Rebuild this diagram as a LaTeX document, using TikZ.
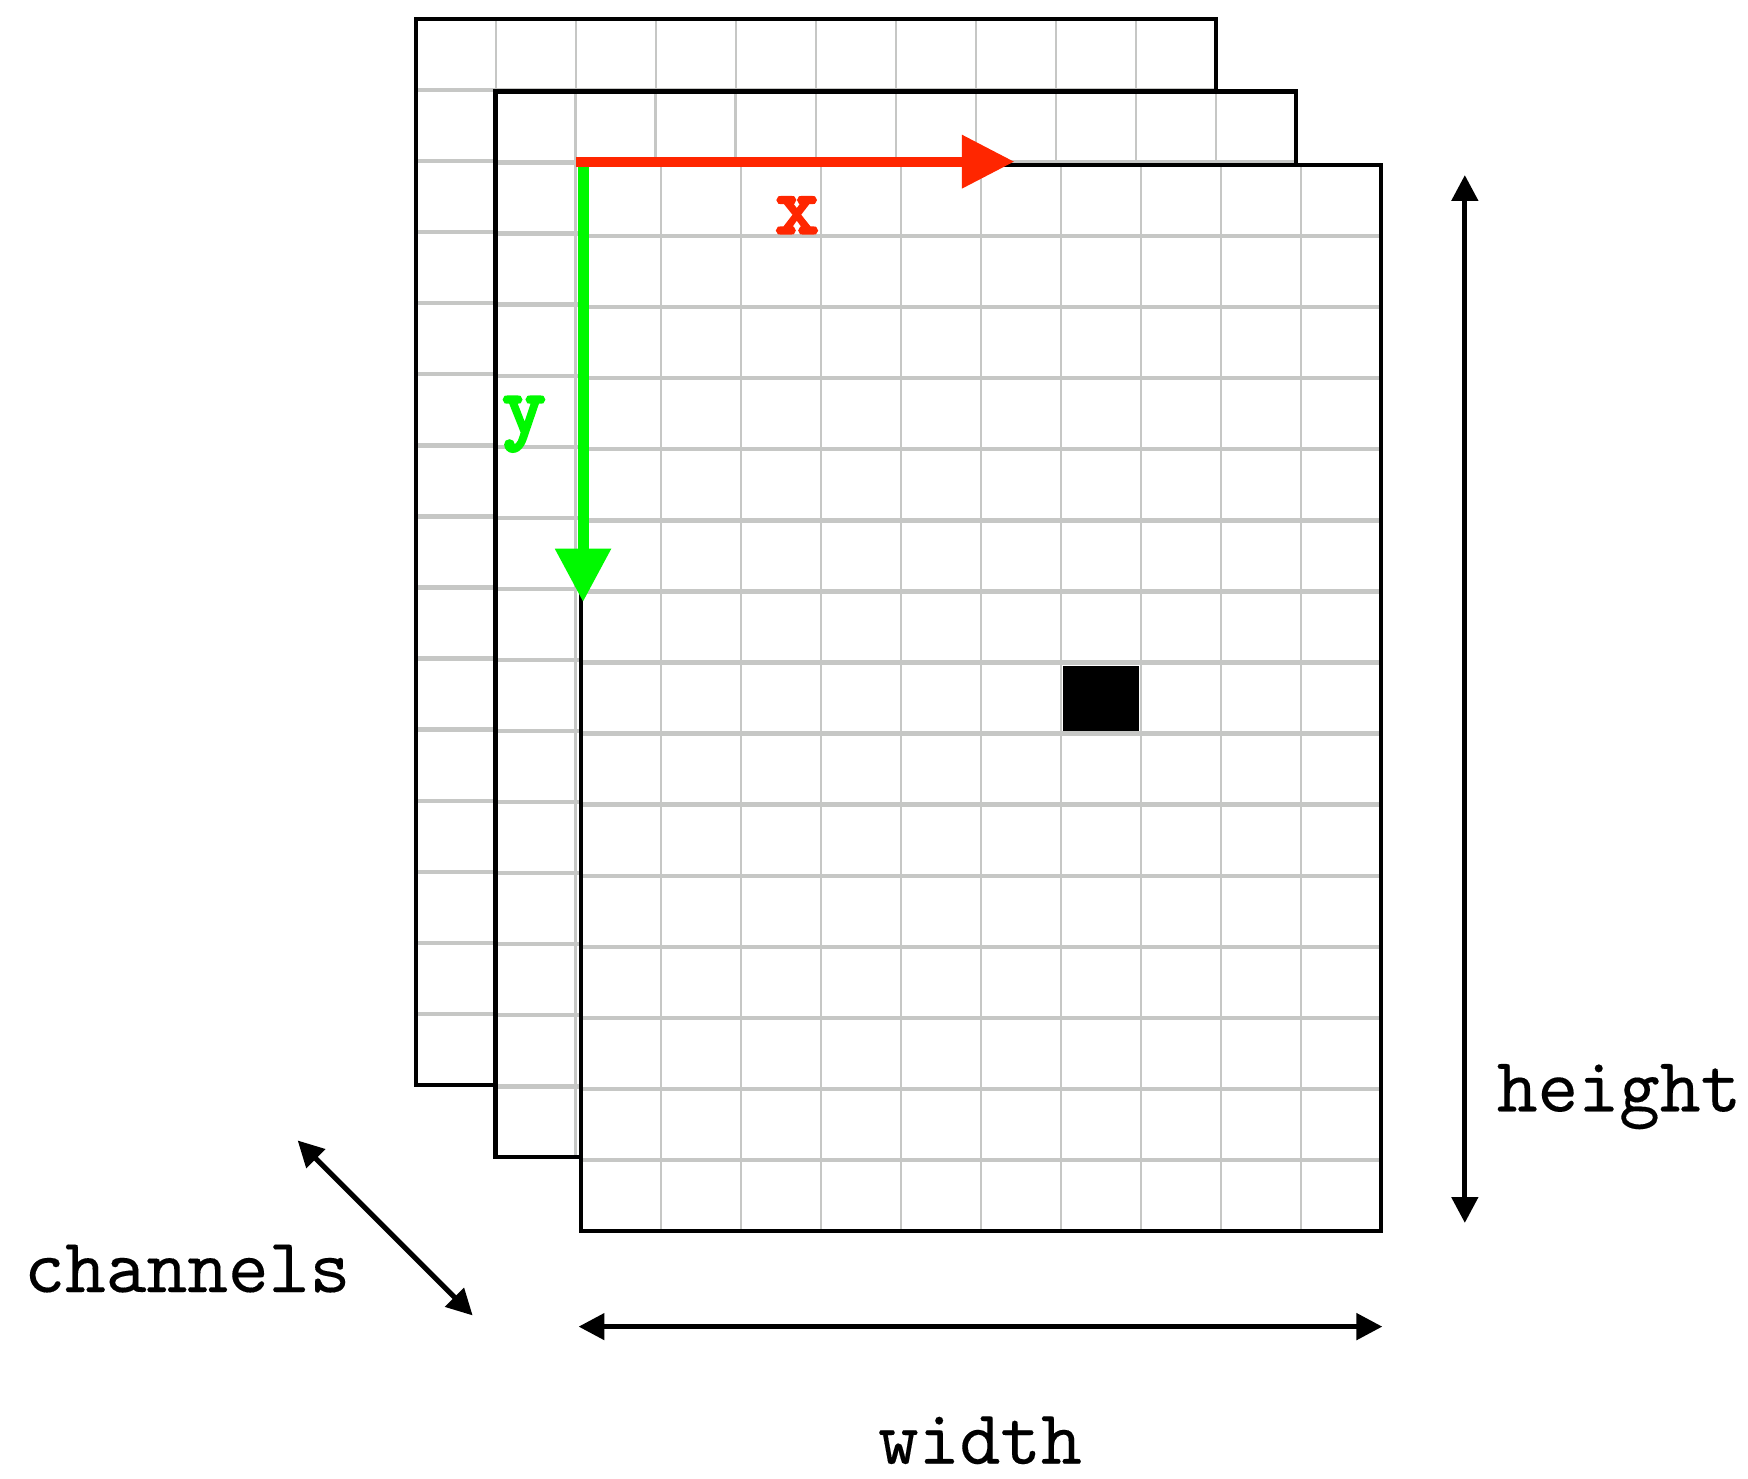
\documentclass[tikz,border=0pt]{standalone}
\usepackage{fontspec}
\newfontfamily\labelfont{lmmono10-regular}[Extension=.otf, FakeBold=0.15]
\newfontfamily\axisfont{lmmono10-regular}[Extension=.otf, FakeBold=4]
\usetikzlibrary{arrows.meta}

\definecolor{gridgray}{HTML}{C6C7C5}
\definecolor{axisred}{HTML}{FF2600}
\definecolor{axisgreen}{HTML}{00F900}

\tikzset{
  vgrid/.style={gridgray, line width=0.6pt},
  hgrid/.style={gridgray, line width=1.1pt},
  sheet/.style={black, line width=1.1pt},
  dimarrow/.style={black, line width=1.3pt,
    {Triangle[length=6.6pt,width=6.6pt]}-{Triangle[length=6.6pt,width=6.6pt]}},
  lbl/.style={inner sep=0pt, font=\fontsize{19.8}{22}\labelfont},
  axislbl/.style={inner sep=0pt, font=\fontsize{21}{23}\axisfont},
}

\begin{document}
\begin{tikzpicture}[x=0.01cm, y=-0.01cm]
  \useasboundingbox (0,0) rectangle (1568,1326);

  % three stacked channel sheets, back to front, each a 10 x 15 grid
  \foreach \sx/\sy in {373/17, 444.5/82, 521/148} {
    \fill[white] (\sx,\sy) rectangle ++(718,956);
    \foreach \i in {1,...,9}
      \draw[vgrid] ({\sx+\i*71.8},\sy) -- ++(0,956);
    \foreach \j in {1,...,14}
      \draw[hgrid] (\sx,{\sy+\j*63.75}) -- ++(718,0);
    \draw[sheet] (\sx,\sy) rectangle ++(718,956);
  }

  % highlighted pixel
  \fill[black] (953.5,597) rectangle (1022,656);

  % image axes
  \coordinate (yStart) at (523,141);
  \coordinate (yEnd) at (523,540);
  \coordinate (xStart) at (517,145);
  \coordinate (xEnd) at (910,145);
  \draw[axisgreen, line width=2.8pt, -{Triangle[length=13.6pt,width=13.6pt]}] (yStart) -- (yEnd);
  \draw[axisred, line width=2.6pt, -{Triangle[length=13.4pt,width=13pt]}] (xStart) -- (xEnd);
  \node[axislbl, text=axisred, anchor=base] (xlab) at (715,209) {x};
  \node[axislbl, text=axisgreen, anchor=base] (ylab) at (470,388) {y};

  % dimension arrows
  \coordinate (hTop) at (1314,157);
  \coordinate (hBot) at (1314,1097);
  \draw[dimarrow] (hTop) -- (hBot);
  \node[lbl, anchor=base west] (height) at (1342,997) {height};

  \coordinate (wLeft) at (519,1190);
  \coordinate (wRight) at (1240,1190);
  \draw[dimarrow] (wLeft) -- (wRight);
  \node[lbl, anchor=base] (width) at (879,1313) {width};

  \coordinate (cBack) at (267,1023);
  \coordinate (cFront) at (424,1180);
  \draw[dimarrow] (cBack) -- (cFront);
  \node[lbl, anchor=base] (channels) at (168,1159) {channels};
\end{tikzpicture}
\end{document}
